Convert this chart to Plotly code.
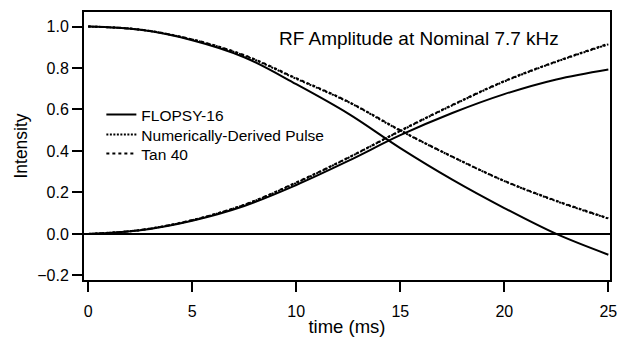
import plotly.graph_objects as go

time_ms = [0, 2.5, 5, 7.5, 10, 12.5, 15, 17.5, 20, 22.5, 25]

flopsy_decay = [1.0, 0.984, 0.934, 0.852, 0.722, 0.580, 0.414, 0.262, 0.125, 0.0, -0.100]
flopsy_rise = [0.0, 0.018, 0.064, 0.135, 0.236, 0.352, 0.476, 0.583, 0.674, 0.745, 0.793]

numeric_decay = [1.0, 0.985, 0.937, 0.860, 0.748, 0.636, 0.498, 0.372, 0.255, 0.158, 0.074]
numeric_rise = [0.0, 0.019, 0.066, 0.140, 0.246, 0.367, 0.496, 0.620, 0.735, 0.830, 0.914]

tan_decay = [1.0, 0.985, 0.938, 0.862, 0.751, 0.638, 0.500, 0.373, 0.256, 0.160, 0.076]
tan_rise = [0.0, 0.019, 0.067, 0.141, 0.248, 0.368, 0.498, 0.622, 0.737, 0.832, 0.917]

series = [
    ("FLOPSY-16", flopsy_decay, flopsy_rise, "solid", 2, "legend"),
    ("Numerically-Derived Pulse", numeric_decay, numeric_rise, "2px,1.5px", 2, "legend2"),
    ("Tan 40", tan_decay, tan_rise, "3px,3px", 2, "legend3"),
]

FONT = "Liberation Sans, Arial, sans-serif"

fig = go.Figure()
for name, dec, rise, dash, w, leg in series:
    for i, ys in enumerate((dec, rise)):
        fig.add_trace(go.Scatter(
            x=time_ms, y=ys, mode="lines", name=name, legend=leg,
            showlegend=(i == 0),
            line=dict(color="black", width=w, dash=dash, shape="spline", smoothing=1.0),
        ))

fig.add_annotation(text="RF Amplitude at Nominal 7.7 kHz", xref="paper", yref="paper",
                   x=0.366, y=0.9, xanchor="left", yanchor="middle", showarrow=False,
                   font=dict(family=FONT, size=19, color="black"))

legend_style = dict(x=0.033, xanchor="left", yanchor="middle",
                    bgcolor="rgba(0,0,0,0)", font=dict(family=FONT, size=15.5),
                    itemwidth=30)

fig.update_layout(
    width=617, height=337,
    margin=dict(l=84, r=5, t=12, b=57),
    paper_bgcolor="white", plot_bgcolor="white",
    font=dict(family=FONT, size=16, color="black"),
    showlegend=True,
    legend=dict(y=0.616, **legend_style),
    legend2=dict(y=0.541, **legend_style),
    legend3=dict(y=0.470, **legend_style),
    xaxis=dict(range=[-0.2, 25.08], tickvals=[0, 5, 10, 15, 20, 25],
               showline=True, mirror=True, linecolor="black", linewidth=2,
               ticks="outside", ticklen=10, tickwidth=2, tickcolor="black",
               showgrid=False, zeroline=False, ticklabelstandoff=6,
               ticklabeloverflow="allow", automargin=False,
               tickfont=dict(family=FONT, size=16),
               title=dict(text="time (ms)", font=dict(family=FONT, size=18.5), standoff=1)),
    yaxis=dict(range=[-0.222, 1.07], tickvals=[-0.2, 0, 0.2, 0.4, 0.6, 0.8, 1.0],
               tickformat=".1f",
               showline=True, mirror=True, linecolor="black", linewidth=2,
               ticks="outside", ticklen=10, tickwidth=2, tickcolor="black",
               showgrid=False, zeroline=True, zerolinecolor="black", zerolinewidth=1.5,
               tickfont=dict(family=FONT, size=16),
               title=dict(text="Intensity", font=dict(family=FONT, size=17.5), standoff=5)),
)

fig.write_html("out.html")
